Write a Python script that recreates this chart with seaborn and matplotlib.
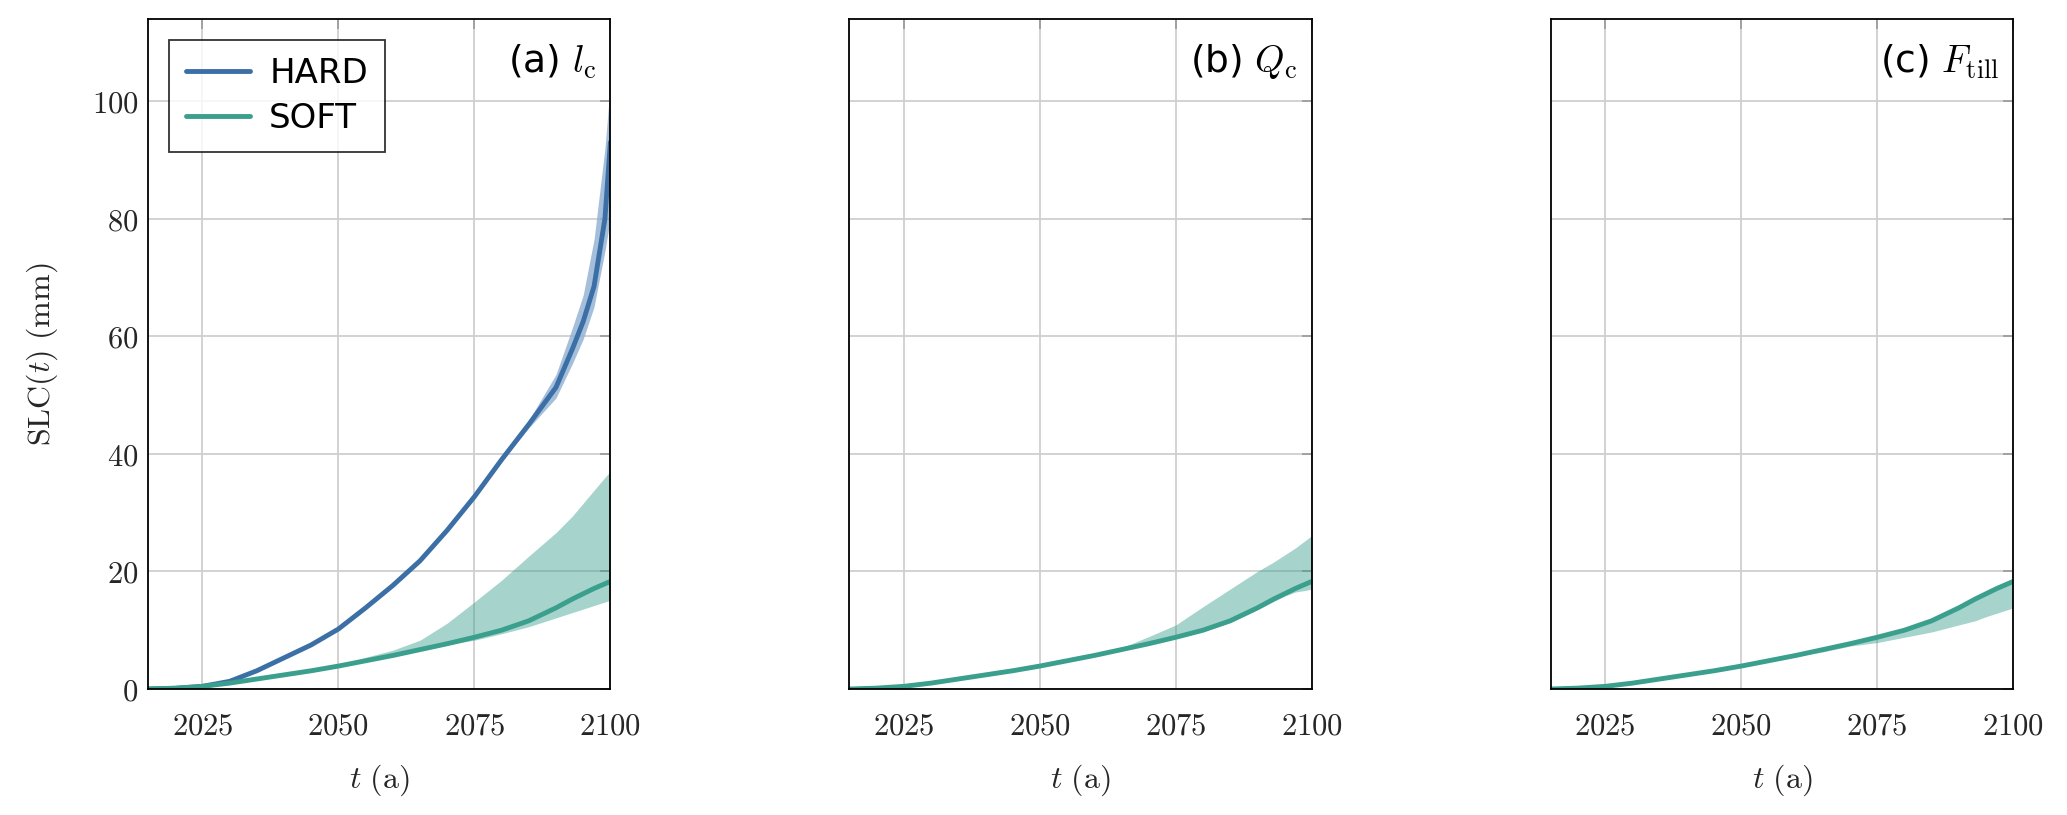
import numpy as np
import pandas as pd
import seaborn as sns
import matplotlib.pyplot as plt

# sea level contribution (mm)
years = [2015, 2020, 2025, 2030, 2035, 2040, 2045, 2050, 2055, 2060, 2065,
         2070, 2075, 2080, 2085, 2090, 2093, 2095, 2097, 2099, 2100]

hard_med = [0, 0.1, 0.45, 1.3, 3.1, 5.3, 7.5, 10.2, 13.8, 17.6, 21.8,
            27.0, 32.7, 39.0, 45.0, 51.3, 57.8, 62.5, 68.5, 80.0, 93.0]
hard_lo = [0, 0.1, 0.45, 1.2, 2.9, 5.1, 7.3, 10.0, 13.6, 17.4, 21.5,
           26.7, 32.4, 38.7, 44.4, 49.5, 55.3, 59.5, 65.0, 74.5, 80.0]
hard_hi = [0, 0.1, 0.45, 1.4, 3.3, 5.5, 7.7, 10.4, 14.0, 17.8, 22.1,
           27.3, 33.0, 39.3, 45.7, 53.5, 61.4, 67.0, 76.5, 92.0, 103.0]

soft_med = [0, 0.15, 0.45, 1.0, 1.7, 2.4, 3.1, 3.9, 4.8, 5.7, 6.7,
            7.7, 8.8, 10.0, 11.6, 13.8, 15.3, 16.2, 17.1, 17.9, 18.3]

# (a) l_c
soft_lo_a = [0, 0.1, 0.4, 0.9, 1.6, 2.3, 3.0, 3.8, 4.7, 5.6, 6.6,
             7.5, 8.3, 9.4, 10.6, 12.1, 13.0, 13.6, 14.2, 14.8, 15.1]
soft_hi_a = [0, 0.2, 0.5, 1.05, 1.75, 2.45, 3.15, 4.1, 5.4, 6.6, 8.3,
             11.2, 14.8, 18.5, 22.6, 26.6, 29.4, 31.6, 33.8, 36.0, 37.0]
# (b) Q_c
soft_lo_b = [0, 0.1, 0.4, 0.9, 1.6, 2.3, 3.0, 3.8, 4.7, 5.6, 6.5,
             7.5, 8.6, 9.8, 11.3, 13.5, 14.9, 15.8, 16.5, 16.8, 17.0]
soft_hi_b = [0, 0.2, 0.5, 1.1, 1.8, 2.5, 3.2, 4.0, 4.9, 5.8, 7.0,
             8.9, 10.9, 14.0, 17.0, 20.0, 21.6, 22.8, 24.0, 25.4, 26.1]
# (c) F_till
soft_lo_c = [0, 0.1, 0.4, 0.9, 1.6, 2.3, 3.0, 3.8, 4.7, 5.6, 6.3,
             7.3, 7.9, 8.8, 9.7, 10.9, 11.6, 12.3, 12.9, 13.5, 13.8]
soft_hi_c = [0, 0.2, 0.55, 1.1, 1.85, 2.55, 3.25, 4.05, 4.95, 5.85, 6.85,
             7.85, 8.95, 10.15, 11.75, 13.95, 15.45, 16.35, 17.25, 18.05, 18.5]

panel_titles = [r'(a) $l_\mathrm{c}$', r'(b) $Q_\mathrm{c}$', r'(c) $F_\mathrm{till}$']
x_ticks = [2025, 2050, 2075, 2100]
y_ticks = [0, 20, 40, 60, 80, 100]

c_hard = '#3b6fa6'
c_soft = '#3a9f8c'

sns.set_theme(style='white')
plt.rcParams['font.family'] = ['DejaVu Sans']
plt.rcParams['mathtext.fontset'] = 'cm'

fig, axes = plt.subplots(1, 3, figsize=(20.67, 8.15), dpi=100, sharey=True)
fig.subplots_adjust(left=0.0716, right=0.974, top=0.977, bottom=0.1546, wspace=0.517)

bands = [(soft_lo_a, soft_hi_a), (soft_lo_b, soft_hi_b), (soft_lo_c, soft_hi_c)]

for i, ax in enumerate(axes):
    lo, hi = bands[i]
    rows = []
    if i == 0:
        ax.fill_between(years, hard_lo, hard_hi, color='#8fb0d3', alpha=0.8, lw=0)
        rows += [{'year': y, 'slc': v, 'run': 'HARD'} for y, v in zip(years, hard_med)]
    ax.fill_between(years, lo, hi, color=c_soft, alpha=0.45, lw=0)
    rows += [{'year': y, 'slc': v, 'run': 'SOFT'} for y, v in zip(years, soft_med)]
    df = pd.DataFrame(rows)
    sns.lineplot(data=df, x='year', y='slc', hue='run',
                 palette={'HARD': c_hard, 'SOFT': c_soft}, lw=3.5,
                 ax=ax, legend=(i == 0))

    ax.set_xlim(2015, 2100)
    ax.set_ylim(0, 114)
    ax.set_xticks(x_ticks)
    ax.set_xticklabels(['$%d$' % t for t in x_ticks], fontsize=22)
    ax.set_yticks(y_ticks)
    ax.set_yticklabels(['$%d$' % t for t in y_ticks], fontsize=22)
    ax.grid(True, color='#cfcfcf', lw=1.3)
    ax.tick_params(direction='in', top=True, right=True, length=7, width=1.2,
                   color='#999999')
    ax.tick_params(axis='x', pad=16)
    ax.tick_params(axis='y', pad=7)
    for s in ax.spines.values():
        s.set_color('black')
        s.set_linewidth(1.3)
    ax.set_xlabel(r'$t\ (\mathrm{a})$', fontsize=23, labelpad=16)
    ax.set_ylabel('')
    ax.text(0.97, 0.965, panel_titles[i], transform=ax.transAxes, ha='right',
            va='top', fontsize=27, color='black')

axes[0].set_ylabel(r'$\mathrm{SLC}(t)\ (\mathrm{mm})$', fontsize=23, labelpad=23)
leg = axes[0].legend(loc='upper left', bbox_to_anchor=(0.045, 0.968), borderaxespad=0,
                     fontsize=24.5, frameon=True, fancybox=False, handlelength=1.9,
                     handletextpad=0.55, borderpad=0.5, labelspacing=0.35, title=None)
leg.get_frame().set_edgecolor('black')
leg.get_frame().set_linewidth(1.3)
for t in leg.get_texts():
    t.set_color('black')
for h in leg.get_lines():
    h.set_linewidth(3.5)

fig.savefig('out.png', dpi=100)
